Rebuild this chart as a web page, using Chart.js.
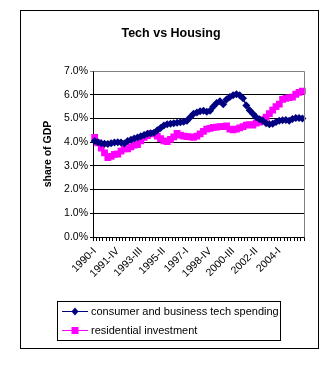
<!DOCTYPE html>
<html>
<head>
<meta charset="utf-8">
<script src="https://cdn.jsdelivr.net/npm/chart.js@4/dist/chart.umd.min.js"></script>
<style>
  html, body { margin: 0; padding: 0; background: #fff; }
  #wrap { width: 329px; height: 369px; position: relative; }
</style>
</head>
<body>
<div id="wrap"><canvas id="chart"></canvas></div>
<script>
// Quarters 1990-I .. 2005-IV
const years = [1990, 1991, 1992, 1993, 1994, 1995, 1996, 1997, 1998, 1999, 2000, 2001, 2002, 2003, 2004, 2005];
const romans = ['I', 'II', 'III', 'IV'];
const quarters = [];
years.forEach(y => romans.forEach(r => quarters.push(y + '-' + r)));

// Share of GDP (%)
const techSpending = [
    4.05, 4.00, 3.95, 3.93, 3.92, 3.95, 3.98, 4.00, 3.98, 3.94,
    4.05, 4.10, 4.15, 4.20, 4.25, 4.30, 4.35, 4.38, 4.40, 4.50,
    4.60, 4.70, 4.75, 4.78, 4.80, 4.82, 4.84, 4.86, 4.90, 5.05,
    5.20, 5.25, 5.30, 5.32, 5.28, 5.32, 5.50, 5.65, 5.72, 5.60,
    5.80, 5.90, 5.98, 6.02, 5.98, 5.85, 5.55, 5.35, 5.20, 5.05,
    4.97, 4.90, 4.80, 4.75, 4.78, 4.85, 4.90, 4.92, 4.93, 4.90,
    4.98, 5.02, 5.02, 5.00
];
const residential = [
    4.20, 3.97, 3.75, 3.55, 3.35, 3.40, 3.48, 3.50, 3.62, 3.72,
    3.72, 3.80, 3.87, 3.90, 4.05, 4.20, 4.28, 4.36, 4.35, 4.25,
    4.15, 4.05, 4.02, 4.12, 4.22, 4.37, 4.30, 4.25, 4.23, 4.22,
    4.20, 4.25, 4.35, 4.45, 4.55, 4.58, 4.62, 4.63, 4.65, 4.65,
    4.68, 4.55, 4.52, 4.55, 4.60, 4.65, 4.72, 4.74, 4.72, 4.80,
    4.85, 4.95, 5.05, 5.20, 5.35, 5.50, 5.60, 5.80, 5.85, 5.88,
    5.90, 6.02, 6.10, 6.15
];

const yTicks = [0, 1, 2, 3, 4, 5, 6, 7];
// every 7th quarter is labelled, last one (2005-IV) is not
const labelEvery = 7;
const lastLabelled = 56;

const FONT = 'Arial, "Liberation Sans", sans-serif';

// outer frame, plot frame and boxed legend
const framePlugin = {
    id: 'frame',
    afterDraw(chart) {
        const ctx = chart.ctx;
        const a = chart.chartArea;
        ctx.save();
        ctx.strokeStyle = '#808080';
        ctx.lineWidth = 1;
        ctx.beginPath();
        ctx.moveTo(Math.round(a.left) + 0.5, Math.round(a.top) + 0.5);
        ctx.lineTo(Math.round(a.right) + 0.5, Math.round(a.top) + 0.5);
        ctx.lineTo(Math.round(a.right) + 0.5, Math.round(a.bottom) + 0.5);
        ctx.stroke();

        ctx.strokeStyle = '#000';
        ctx.strokeRect(20.5, 10.5, 298, 338);
        ctx.strokeRect(57.5, 301.5, 223, 39);

        ctx.font = '11px ' + FONT;
        ctx.textBaseline = 'middle';
        ctx.textAlign = 'left';
        chart.data.datasets.forEach((ds, i) => {
            const y = 311 + i * 19;
            ctx.strokeStyle = ds.borderColor;
            ctx.fillStyle = ds.backgroundColor;
            ctx.beginPath();
            ctx.moveTo(62, y + 0.5);
            ctx.lineTo(88, y + 0.5);
            ctx.stroke();
            ctx.beginPath();
            if (ds.pointStyle === 'rectRot') {
                ctx.moveTo(75, y - 3.5);
                ctx.lineTo(78.5, y + 0.5);
                ctx.lineTo(75, y + 4.5);
                ctx.lineTo(71.5, y + 0.5);
                ctx.closePath();
            } else {
                ctx.rect(71.5, y - 3, 7, 7);
            }
            ctx.fill();
            ctx.fillStyle = '#000';
            ctx.fillText(ds.label, 91, y + 1);
        });
        ctx.restore();
    }
};

const ctx = document.getElementById('chart').getContext('2d');
new Chart(ctx, {
    type: 'line',
    data: {
        labels: quarters,
        datasets: [
            {
                label: 'consumer and business tech spending',
                data: techSpending,
                borderColor: '#000080',
                backgroundColor: '#000080',
                borderWidth: 1.5,
                pointStyle: 'rectRot',
                pointRadius: 4,
                pointBorderWidth: 0,
                tension: 0
            },
            {
                label: 'residential investment',
                data: residential,
                borderColor: '#ff00ff',
                backgroundColor: '#ff00ff',
                borderWidth: 1.5,
                pointStyle: 'rect',
                pointRadius: 4.8,
                pointBorderWidth: 0,
                tension: 0
            }
        ]
    },
    options: {
        responsive: true,
        maintainAspectRatio: false,
        animation: false,
        events: [],
        layout: {
            padding: { left: 38, right: 25, top: 0, bottom: 70 }
        },
        plugins: {
            legend: { display: false },
            tooltip: { enabled: false },
            title: {
                display: true,
                text: 'Tech vs Housing',
                color: '#000',
                font: { family: FONT, size: 12.5, weight: 'bold' },
                padding: { top: 26, bottom: 30 }
            }
        },
        scales: {
            x: {
                offset: true,
                grid: {
                    offset: true,
                    drawOnChartArea: false,
                    drawTicks: true,
                    tickLength: 4,
                    color: '#000'
                },
                border: { color: '#000' },
                ticks: {
                    autoSkip: false,
                    minRotation: 45,
                    maxRotation: 45,
                    padding: 4,
                    color: '#000',
                    font: { family: FONT, size: 10.5 },
                    callback: (v, i) => (i % labelEvery === 0 && i <= lastLabelled ? quarters[i] : '')
                },
                afterFit: scale => { scale.height = 62; }
            },
            y: {
                min: yTicks[0],
                max: yTicks[yTicks.length - 1],
                afterBuildTicks: scale => { scale.ticks = yTicks.map(v => ({ value: v })); },
                grid: {
                    color: c => (c.tick && c.tick.value === 7 ? '#808080' : '#000'),
                    tickLength: 3
                },
                border: { color: '#000' },
                ticks: {
                    padding: 2,
                    color: '#000',
                    font: { family: FONT, size: 10.5 },
                    callback: v => v.toFixed(1) + '%'
                },
                title: {
                    display: true,
                    text: 'share of GDP',
                    color: '#000',
                    font: { family: FONT, size: 10.5, weight: 'bold' },
                    padding: { top: 4, bottom: 4 }
                },
                afterFit: scale => { scale.width = 55; }
            }
        }
    },
    plugins: [framePlugin]
});
</script>
</body>
</html>
